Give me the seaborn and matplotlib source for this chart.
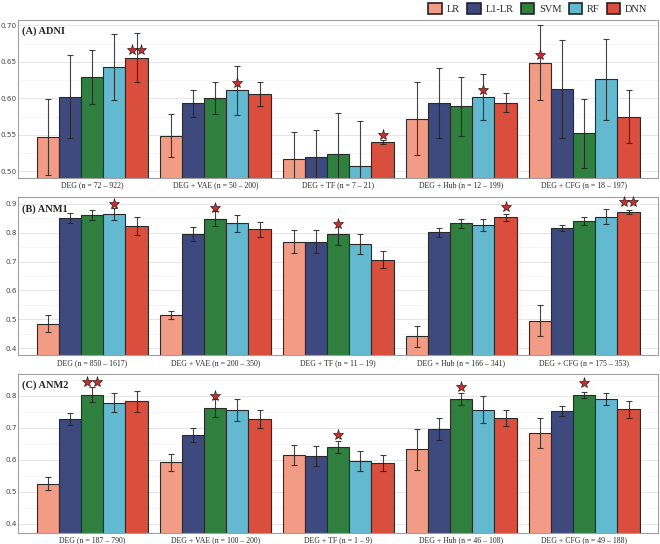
import numpy as np
import pandas as pd
import seaborn as sns
import matplotlib.pyplot as plt
from matplotlib.patches import Patch
from matplotlib.ticker import MultipleLocator

# models and feature sets
models = ["LR", "L1-LR", "SVM", "RF", "DNN"]
feature_sets = ["DEG", "DEG + VAE", "DEG + TF", "DEG + Hub", "DEG + CFG"]
colors = ["#F29B85", "#3E4A7D", "#2F7F3E", "#62B9D0", "#D94E3C"]

# (A) ADNI
adni_labels = ["DEG (n = 72 – 922)", "DEG + VAE (n = 50 – 200)", "DEG + TF (n = 7 – 21)",
               "DEG + Hub (n = 12 – 199)", "DEG + CFG (n = 18 – 197)"]
adni_mean = [[0.547, 0.602, 0.629, 0.643, 0.656],
             [0.549, 0.593, 0.600, 0.611, 0.606],
             [0.517, 0.520, 0.524, 0.507, 0.540],
             [0.572, 0.593, 0.589, 0.602, 0.594],
             [0.649, 0.613, 0.552, 0.626, 0.575]]
adni_err = [[0.052, 0.057, 0.037, 0.045, 0.034],
            [0.030, 0.019, 0.022, 0.034, 0.017],
            [0.037, 0.036, 0.056, 0.062, 0.003],
            [0.050, 0.048, 0.040, 0.031, 0.013],
            [0.051, 0.067, 0.047, 0.055, 0.036]]
adni_stars = [("DEG", "DNN", 2), ("DEG + VAE", "RF", 1), ("DEG + TF", "DNN", 1),
              ("DEG + Hub", "RF", 1), ("DEG + CFG", "LR", 1)]

# (B) ANM1
anm1_labels = ["DEG (n = 850 – 1617)", "DEG + VAE (n = 200 – 350)", "DEG + TF (n = 11 – 19)",
               "DEG + Hub (n = 166 – 341)", "DEG + CFG (n = 175 – 353)"]
anm1_mean = [[0.485, 0.851, 0.862, 0.865, 0.823],
             [0.516, 0.795, 0.849, 0.832, 0.812],
             [0.769, 0.769, 0.795, 0.761, 0.706],
             [0.440, 0.801, 0.833, 0.827, 0.853],
             [0.495, 0.816, 0.842, 0.856, 0.872]]
anm1_err = [[0.029, 0.017, 0.018, 0.021, 0.032],
            [0.014, 0.023, 0.025, 0.029, 0.026],
            [0.039, 0.039, 0.038, 0.035, 0.029],
            [0.036, 0.015, 0.016, 0.020, 0.013],
            [0.054, 0.011, 0.014, 0.026, 0.006]]
anm1_stars = [("DEG", "RF", 1), ("DEG + VAE", "SVM", 1), ("DEG + TF", "SVM", 1),
              ("DEG + Hub", "DNN", 1), ("DEG + CFG", "DNN", 2)]

# (C) ANM2
anm2_labels = ["DEG (n = 187 – 790)", "DEG + VAE (n = 100 – 200)", "DEG + TF (n = 1 – 9)",
               "DEG + Hub (n = 46 – 108)", "DEG + CFG (n = 49 – 188)"]
anm2_mean = [[0.526, 0.727, 0.804, 0.778, 0.783],
             [0.592, 0.679, 0.762, 0.756, 0.727],
             [0.615, 0.611, 0.639, 0.597, 0.591],
             [0.633, 0.696, 0.791, 0.757, 0.732],
             [0.685, 0.752, 0.802, 0.791, 0.758]]
anm2_err = [[0.019, 0.018, 0.022, 0.030, 0.033],
            [0.026, 0.022, 0.027, 0.034, 0.029],
            [0.032, 0.031, 0.019, 0.032, 0.025],
            [0.064, 0.035, 0.019, 0.042, 0.025],
            [0.047, 0.016, 0.010, 0.019, 0.027]]
anm2_stars = [("DEG", "SVM", 2), ("DEG + VAE", "SVM", 1), ("DEG + TF", "SVM", 1),
              ("DEG + Hub", "SVM", 1), ("DEG + CFG", "SVM", 1)]

panels = [
    dict(title="(A) ADNI", labels=adni_labels, mean=adni_mean, err=adni_err, stars=adni_stars,
         ylim=(0.491, 0.708), major=0.05, fmt="{:.2f}", star_off=0.010,
         rect=[0.028, 0.673, 0.969, 0.291]),
    dict(title="(B) ANM1", labels=anm1_labels, mean=anm1_mean, err=anm1_err, stars=anm1_stars,
         ylim=(0.375, 0.924), major=0.1, fmt="{:.1f}", star_off=0.036,
         rect=[0.028, 0.347, 0.969, 0.291]),
    dict(title="(C) ANM2", labels=anm2_labels, mean=anm2_mean, err=anm2_err, stars=anm2_stars,
         ylim=(0.373, 0.869), major=0.1, fmt="{:.1f}", star_off=0.038,
         rect=[0.028, 0.021, 0.969, 0.292]),
]

sns.set_style("white")
plt.rcParams["font.family"] = ["Liberation Serif", "DejaVu Serif"]

fig = plt.figure(figsize=(6.6, 5.44), dpi=100)

for p in panels:
    ax = fig.add_axes(p["rect"])
    rows = []
    for gi, fs in enumerate(feature_sets):
        for mi, m in enumerate(models):
            rows.append(dict(group=fs, model=m, acc=p["mean"][gi][mi], err=p["err"][gi][mi]))
    df = pd.DataFrame(rows)

    sns.barplot(data=df, x="group", y="acc", hue="model", order=feature_sets,
                hue_order=models, palette=colors, width=0.9, errorbar=None,
                edgecolor="#2a2a2a", linewidth=0.8, saturation=1, legend=False,
                ax=ax, zorder=2)

    # error bars and stars on top of the seaborn bars
    bar_containers = list(ax.containers)
    centers = {}
    for mi, cont in enumerate(bar_containers):
        for gi, bar in enumerate(cont.patches):
            cx = bar.get_x() + bar.get_width() / 2
            centers[(feature_sets[gi], models[mi])] = (cx, bar.get_width())
            ax.errorbar(cx, p["mean"][gi][mi], yerr=p["err"][gi][mi], fmt="none",
                        ecolor="#222222", elinewidth=0.8, capsize=2.2, capthick=0.8,
                        alpha=0.85, zorder=3)

    for fs, m, n in p["stars"]:
        cx, w = centers[(fs, m)]
        y = p["mean"][feature_sets.index(fs)][models.index(m)] + p["star_off"]
        xs = [cx] if n == 1 else [cx - w * 0.22, cx + w * 0.22]
        ax.plot(xs, [y] * len(xs), linestyle="none", marker="*", markersize=8,
                markerfacecolor="#C9302C", markeredgecolor="#3a1a1a",
                markeredgewidth=0.5, zorder=4, clip_on=False)

    ax.set_xlim(-0.6, 4.6)
    ax.set_ylim(*p["ylim"])
    ax.yaxis.set_major_locator(MultipleLocator(p["major"]))
    ax.yaxis.set_minor_locator(MultipleLocator(p["major"] / 2))
    ax.grid(axis="y", which="major", color="#e6e6e6", linewidth=0.7, zorder=0)
    ax.grid(axis="y", which="minor", color="#f3f3f3", linewidth=0.5, zorder=0)
    ax.set_axisbelow(True)

    ticks = [t for t in ax.get_yticks() if p["ylim"][0] <= t <= p["ylim"][1]]
    ax.set_yticks(ticks)
    ax.set_yticklabels([p["fmt"].format(t) for t in ticks], family="DejaVu Sans",
                       fontsize=5.2, color="#444444")
    ax.set_ylim(*p["ylim"])
    ax.set_xticks(range(len(feature_sets)))
    ax.set_xticklabels(p["labels"], fontsize=5.6)
    ax.tick_params(axis="x", length=1.5, pad=1.0, width=0.6, color="#666666")
    ax.tick_params(axis="y", length=0, pad=1.2)
    ax.set_xlabel("")
    ax.set_ylabel("")
    for s in ax.spines.values():
        s.set_color("#a0a0a0")
        s.set_linewidth(0.8)

    ax.text(0.005, 0.925, p["title"], transform=ax.transAxes, fontsize=7.5,
            fontweight="bold", va="center", ha="left")

handles = [Patch(facecolor=c, edgecolor="#222222", linewidth=1.2, label=m)
           for m, c in zip(models, colors)]
fig.legend(handles=handles, loc="upper right", bbox_to_anchor=(0.995, 1.012), ncol=5,
           frameon=False, fontsize=7.5, handlelength=1.3, handleheight=1.3,
           columnspacing=0.7, handletextpad=0.45)

fig.savefig("out.png", dpi=100)
